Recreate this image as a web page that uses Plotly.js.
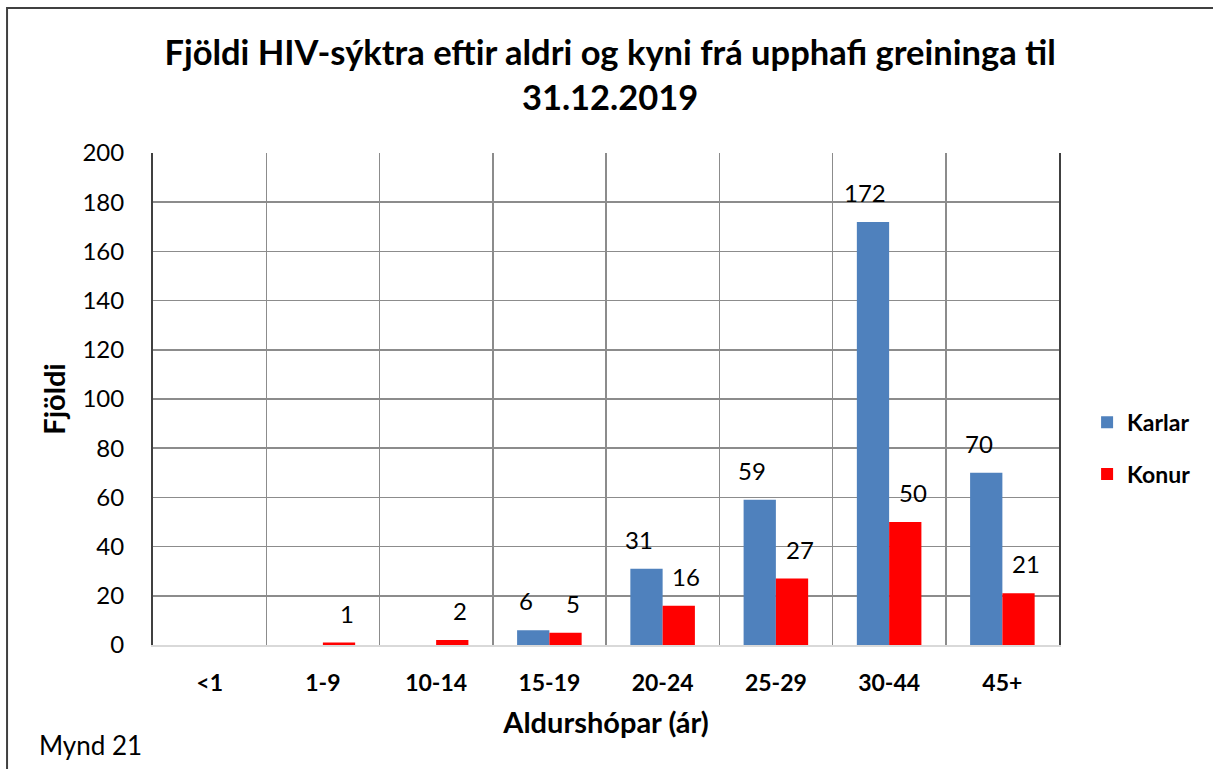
<!DOCTYPE html>
<html>
<head>
<meta charset="utf-8">
<script src="https://cdn.plot.ly/plotly-3.0.1.min.js"></script>
<style>html,body{margin:0;padding:0;background:#fff;}#chart{width:1213px;height:769px;}</style>
</head>
<body>
<div id="chart"></div>
<script>
const categories = ["<1", "1-9", "10-14", "15-19", "20-24", "25-29", "30-44", "45+"];
const karlar = [0, 0, 0, 6, 31, 59, 172, 70];
const konur = [0, 1, 2, 5, 16, 27, 50, 21];
const seriesNames = ["Karlar", "Konur"];
const yTicks = [0, 20, 40, 60, 80, 100, 120, 140, 160, 180, 200];

const FONT = "Lato, 'Open Sans', sans-serif";
const colors = ["#4f81bd", "#ff0000"];

const traces = [karlar, konur].map((vals, i) => ({
  type: "bar",
  name: seriesNames[i],
  x: categories,
  y: vals,
  marker: {color: colors[i]},
  legendgroup: "g" + i,
  hoverinfo: "x+y+name"
}));

const annotations = [];
const offsets = [-0.21, 0.21];
[karlar, konur].forEach((vals, s) => {
  vals.forEach((v, i) => {
    if (v > 0) {
      annotations.push({
        xref: "x", yref: "y", x: i + offsets[s], y: v,
        text: String(v), showarrow: false,
        yanchor: "bottom", yshift: 13,
        font: {family: FONT, size: 24, color: "#000"}
      });
    }
  });
});
annotations.push({
  xref: "paper", yref: "paper", x: -0.1275, y: -0.203,
  xanchor: "left", yanchor: "middle", showarrow: false,
  text: "Mynd 21", font: {family: FONT, size: 26, color: "#000"}
});

const layout = {
  width: 1213, height: 769,
  margin: {l: 153, r: 154, t: 153, b: 124},
  paper_bgcolor: "#fff", plot_bgcolor: "#fff",
  title: {
    text: "<b>Fjöldi HIV-sýktra eftir aldri og kyni frá upphafi greininga til<br>31.12.2019</b>",
    font: {family: FONT, size: 34.5, color: "#000"},
    x: 0.503, xanchor: "center", y: 0.915, yanchor: "middle"
  },
  bargap: 0.43, bargroupgap: 0,
  barmode: "group",
  xaxis: {
    type: "category",
    tickson: "boundaries",
    showgrid: true, gridcolor: "#8c8c8c", gridwidth: 1.5,
    showline: true, linecolor: "#d9d9d9", linewidth: 2,
    ticks: "", ticklen: 0,
    ticklabelstandoff: 16,
    tickfont: {family: FONT, size: 23, color: "#000", weight: "bold"},
    title: {text: "<b>Aldurshópar (ár)</b>", font: {family: FONT, size: 29, color: "#000"}, standoff: 18},
    fixedrange: true
  },
  yaxis: {
    range: [0, 200],
    tickvals: yTicks,
    ticktext: yTicks.map(String),
    showgrid: true, gridcolor: "#8c8c8c", gridwidth: 1.5,
    zeroline: false,
    showline: true, linecolor: "#404040", linewidth: 2, mirror: true,
    ticks: "",
    ticklabelstandoff: 22,
    tickfont: {family: FONT, size: 24, color: "#000"},
    title: {text: "<b>Fjöldi</b>", font: {family: FONT, size: 29, color: "#000"}, standoff: 8},
    fixedrange: true
  },
  legend: {
    x: 1.031, y: 0.40, xanchor: "left", yanchor: "middle",
    traceorder: "grouped", tracegroupgap: 19,
    font: {family: FONT, size: 23, color: "#000", weight: "bold"},
    itemwidth: 30
  },
  annotations: annotations,
  shapes: [
    {type: "rect", xref: "paper", yref: "paper", x0: -0.1611, x1: 1.2, y0: -0.3, y1: 1.2947,
     line: {color: "#404040", width: 2}, fillcolor: "rgba(0,0,0,0)", layer: "below"}
  ]
};

Plotly.newPlot("chart", traces, layout, {displayModeBar: false, staticPlot: true});
</script>
</body>
</html>
